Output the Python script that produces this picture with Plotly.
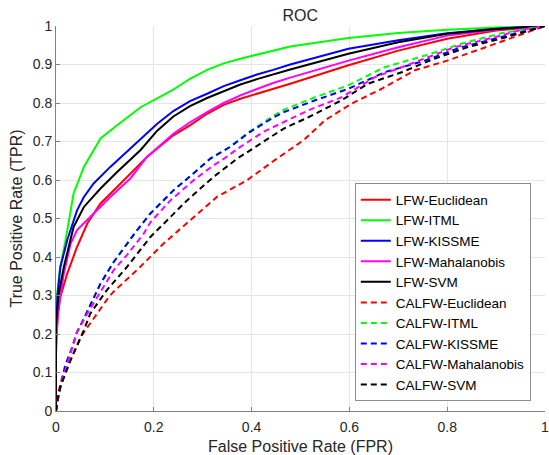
import plotly.graph_objects as go

# ---------------- data ----------------
lfw_euclidean_fpr = [0, 0, 0.003, 0.009, 0.023, 0.043, 0.064, 0.091, 0.125, 0.159, 0.186, 0.24, 0.274, 0.309, 0.343, 0.377, 0.411, 0.444, 0.479, 0.598, 0.70, 0.80, 0.90, 1.0]
lfw_euclidean_tpr = [0, 0.18, 0.24, 0.297, 0.357, 0.426, 0.487, 0.539, 0.582, 0.625, 0.66, 0.716, 0.742, 0.772, 0.795, 0.811, 0.824, 0.837, 0.85, 0.898, 0.936, 0.967, 0.988, 1.0]

lfw_itml_fpr = [0, 0, 0.002, 0.008, 0.019, 0.036, 0.057, 0.091, 0.125, 0.173, 0.24, 0.274, 0.309, 0.343, 0.377, 0.411, 0.444, 0.479, 0.598, 0.70, 0.80, 0.90, 1.0]
lfw_itml_tpr = [0, 0.22, 0.30, 0.37, 0.44, 0.565, 0.634, 0.708, 0.742, 0.789, 0.835, 0.863, 0.886, 0.903, 0.915, 0.926, 0.936, 0.947, 0.969, 0.982, 0.99, 0.996, 1.0]

lfw_kissme_fpr = [0, 0, 0.003, 0.009, 0.023, 0.043, 0.057, 0.077, 0.111, 0.152, 0.173, 0.207, 0.24, 0.274, 0.309, 0.343, 0.377, 0.411, 0.444, 0.479, 0.598, 0.70, 0.80, 0.90, 1.0]
lfw_kissme_tpr = [0, 0.2, 0.3, 0.374, 0.444, 0.521, 0.556, 0.591, 0.634, 0.681, 0.705, 0.746, 0.779, 0.805, 0.824, 0.844, 0.859, 0.874, 0.886, 0.9, 0.941, 0.963, 0.981, 0.993, 1.0]

lfw_mahalanobis_fpr = [0, 0, 0.004, 0.016, 0.03, 0.043, 0.07, 0.111, 0.152, 0.186, 0.24, 0.274, 0.309, 0.343, 0.377, 0.411, 0.444, 0.479, 0.598, 0.70, 0.80, 0.90, 1.0]
lfw_mahalanobis_tpr = [0, 0.15, 0.26, 0.357, 0.435, 0.47, 0.504, 0.556, 0.604, 0.66, 0.72, 0.75, 0.776, 0.8, 0.82, 0.837, 0.852, 0.866, 0.91, 0.945, 0.975, 0.99, 1.0]

lfw_svm_fpr = [0, 0, 0.005, 0.016, 0.036, 0.057, 0.091, 0.125, 0.173, 0.207, 0.24, 0.274, 0.309, 0.343, 0.377, 0.411, 0.444, 0.479, 0.598, 0.70, 0.80, 0.90, 1.0]
lfw_svm_tpr = [0, 0.22, 0.3, 0.374, 0.478, 0.53, 0.578, 0.621, 0.678, 0.728, 0.765, 0.792, 0.813, 0.831, 0.848, 0.862, 0.874, 0.887, 0.928, 0.958, 0.98, 0.992, 1.0]

calfw_euclidean_fpr = [0, 0.005, 0.013, 0.023, 0.03, 0.053, 0.084, 0.108, 0.118, 0.172, 0.22, 0.274, 0.329, 0.39, 0.451, 0.506, 0.55, 0.604, 0.666, 0.734, 0.80, 0.87, 0.938, 0.985, 1.0]
calfw_euclidean_tpr = [0, 0.05, 0.089, 0.119, 0.135, 0.197, 0.253, 0.296, 0.31, 0.374, 0.435, 0.495, 0.556, 0.599, 0.655, 0.703, 0.755, 0.798, 0.837, 0.885, 0.91, 0.941, 0.971, 0.993, 1.0]

calfw_itml_fpr = [0, 0.006, 0.013, 0.019, 0.03, 0.043, 0.057, 0.07, 0.091, 0.118, 0.145, 0.166, 0.193, 0.24, 0.281, 0.315, 0.356, 0.397, 0.444, 0.465, 0.53, 0.598, 0.672, 0.754, 0.829, 0.91, 1.0]
calfw_itml_tpr = [0, 0.046, 0.085, 0.119, 0.154, 0.205, 0.24, 0.275, 0.331, 0.387, 0.435, 0.47, 0.513, 0.573, 0.617, 0.655, 0.686, 0.727, 0.766, 0.782, 0.815, 0.846, 0.893, 0.923, 0.954, 0.981, 1.0]

calfw_kissme_fpr = [0, 0.006, 0.013, 0.019, 0.03, 0.043, 0.057, 0.07, 0.091, 0.118, 0.145, 0.166, 0.193, 0.24, 0.281, 0.315, 0.356, 0.397, 0.444, 0.465, 0.53, 0.598, 0.672, 0.754, 0.829, 0.91, 1.0]
calfw_kissme_tpr = [0, 0.046, 0.085, 0.119, 0.154, 0.205, 0.24, 0.275, 0.331, 0.387, 0.435, 0.47, 0.513, 0.573, 0.617, 0.655, 0.686, 0.725, 0.762, 0.776, 0.807, 0.837, 0.88, 0.91, 0.945, 0.971, 1.0]

calfw_mahalanobis_fpr = [0, 0.006, 0.013, 0.023, 0.043, 0.064, 0.091, 0.118, 0.145, 0.179, 0.193, 0.234, 0.281, 0.322, 0.343, 0.377, 0.424, 0.479, 0.516, 0.584, 0.652, 0.734, 0.815, 0.897, 0.951, 1.0]
calfw_mahalanobis_tpr = [0, 0.046, 0.08, 0.124, 0.205, 0.253, 0.31, 0.366, 0.405, 0.46, 0.49, 0.547, 0.599, 0.638, 0.655, 0.686, 0.725, 0.759, 0.781, 0.815, 0.867, 0.906, 0.945, 0.971, 0.99, 1.0]

calfw_svm_fpr = [0, 0.004, 0.009, 0.03, 0.057, 0.07, 0.104, 0.145, 0.193, 0.234, 0.268, 0.322, 0.37, 0.397, 0.465, 0.516, 0.584, 0.638, 0.707, 0.774, 0.842, 0.91, 0.965, 1.0]
calfw_svm_tpr = [0, 0.035, 0.063, 0.132, 0.21, 0.253, 0.314, 0.374, 0.452, 0.504, 0.547, 0.608, 0.655, 0.677, 0.733, 0.763, 0.807, 0.85, 0.88, 0.915, 0.945, 0.967, 0.988, 1.0]

series_names = ["LFW-Euclidean", "LFW-ITML", "LFW-KISSME", "LFW-Mahalanobis", "LFW-SVM",
                "CALFW-Euclidean", "CALFW-ITML", "CALFW-KISSME", "CALFW-Mahalanobis", "CALFW-SVM"]
series_fpr = [lfw_euclidean_fpr, lfw_itml_fpr, lfw_kissme_fpr, lfw_mahalanobis_fpr, lfw_svm_fpr,
              calfw_euclidean_fpr, calfw_itml_fpr, calfw_kissme_fpr, calfw_mahalanobis_fpr, calfw_svm_fpr]
series_tpr = [lfw_euclidean_tpr, lfw_itml_tpr, lfw_kissme_tpr, lfw_mahalanobis_tpr, lfw_svm_tpr,
              calfw_euclidean_tpr, calfw_itml_tpr, calfw_kissme_tpr, calfw_mahalanobis_tpr, calfw_svm_tpr]

x_ticks = [0, 0.2, 0.4, 0.6, 0.8, 1]
x_tick_labels = ["0", "0.2", "0.4", "0.6", "0.8", "1"]
y_ticks = [0, 0.1, 0.2, 0.3, 0.4, 0.5, 0.6, 0.7, 0.8, 0.9, 1]
y_tick_labels = ["0", "0.1", "0.2", "0.3", "0.4", "0.5", "0.6", "0.7", "0.8", "0.9", "1"]

# ---------------- styling ----------------
colors = ["#ff0000", "#00ff00", "#0000ff", "#ff00ff", "#000000"] * 2
dashes = ["solid"] * 5 + ["6px,4px"] * 5
FONT = "Liberation Sans, Arial, Helvetica, sans-serif"
TXT = "#262626"

fig = go.Figure()
for name, fx, ty, c, d in zip(series_names, series_fpr, series_tpr, colors, dashes):
    fig.add_trace(go.Scatter(x=fx, y=ty, mode="lines", name=name,
                             line=dict(color=c, width=2, dash=d)))

axis_common = dict(range=[0, 1], showgrid=True, gridcolor="#e6e6e6", gridwidth=1,
                   zeroline=False, showline=True, linecolor="#808080", linewidth=1,
                   ticks="inside", ticklen=4, tickcolor="#808080", automargin=False,
                   ticklabeloverflow="allow",
                   tickfont=dict(family=FONT, size=14, color=TXT), mirror=False)

fig.update_layout(
    width=549, height=455,
    paper_bgcolor="white", plot_bgcolor="white",
    margin=dict(l=55.5, r=3.5, t=25.7, b=44),
    title=dict(text="ROC", x=0.547, xanchor="center", y=0.967, yanchor="middle",
               font=dict(family=FONT, size=16, color=TXT)),
    xaxis=dict(axis_common, tickvals=x_ticks, ticktext=x_tick_labels,
               ticklabelstandoff=3,
               title=dict(text="False Positive Rate (FPR)", standoff=12,
                          font=dict(family=FONT, size=16, color=TXT))),
    yaxis=dict(axis_common, tickvals=y_ticks, ticktext=y_tick_labels,
               title=dict(text="True Positive Rate (TPR)", standoff=6,
                          font=dict(family=FONT, size=16, color=TXT))),
    legend=dict(x=0.611, y=0.025, xanchor="left", yanchor="bottom",
                bgcolor="white", bordercolor="#8c8c8c", borderwidth=1,
                font=dict(family=FONT, size=13.5, color="#000000"),
                tracegroupgap=0),
    showlegend=True,
)

fig.write_html("out.html", config={"displayModeBar": False},
               post_script="document.body.style.margin='0';document.body.style.padding='0';")
